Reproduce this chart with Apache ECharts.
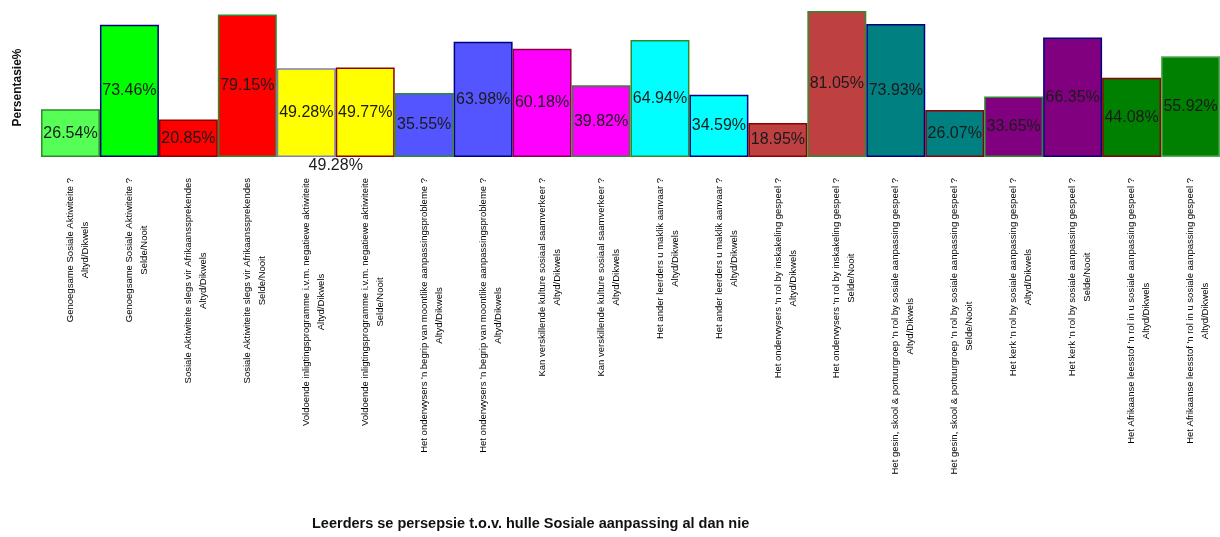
<!DOCTYPE html>
<html><head><meta charset="utf-8">
<script src="https://cdn.jsdelivr.net/npm/echarts@6/dist/echarts.min.js"></script>
<style>html,body{margin:0;padding:0;background:#fff}#c{width:1220px;height:537px}</style>
</head><body><div id="c"></div>
<script>
const questions = [
  "Genoegsame Sosiale Aktiwiteite ?",
  "Genoegsame Sosiale Aktiwiteite ?",
  "Sosiale Aktiwiteite slegs vir Afrikaanssprekendes",
  "Sosiale Aktiwiteite slegs vir Afrikaanssprekendes",
  "Voldoende inligtingsprogramme i.v.m. negatiewe aktiwiteite",
  "Voldoende inligtingsprogramme i.v.m. negatiewe aktiwiteite",
  "Het onderwysers 'n begrip van moontlike aanpassingsprobleme ?",
  "Het onderwysers 'n begrip van moontlike aanpassingsprobleme ?",
  "Kan verskillende kulture sosiaal saamverkeer ?",
  "Kan verskillende kulture sosiaal saamverkeer ?",
  "Het ander leerders u maklik aanvaar ?",
  "Het ander leerders u maklik aanvaar ?",
  "Het onderwysers 'n rol by inskakeling gespeel ?",
  "Het onderwysers 'n rol by inskakeling gespeel ?",
  "Het gesin, skool & portuurgroep 'n rol by sosiale aanpassing gespeel ?",
  "Het gesin, skool & portuurgroep 'n rol by sosiale aanpassing gespeel ?",
  "Het kerk 'n rol by sosiale aanpassing gespeel ?",
  "Het kerk 'n rol by sosiale aanpassing gespeel ?",
  "Het Afrikaanse leesstof 'n rol in u sosiale aanpassing gespeel ?",
  "Het Afrikaanse leesstof 'n rol in u sosiale aanpassing gespeel ?"
];
const answers = [
  "Altyd/Dikwels","Selde/Nooit","Altyd/Dikwels","Selde/Nooit","Altyd/Dikwels",
  "Selde/Nooit","Altyd/Dikwels","Altyd/Dikwels","Altyd/Dikwels","Altyd/Dikwels",
  "Altyd/Dikwels","Altyd/Dikwels","Altyd/Dikwels","Selde/Nooit","Altyd/Dikwels",
  "Selde/Nooit","Altyd/Dikwels","Selde/Nooit","Altyd/Dikwels","Altyd/Dikwels"
];
const values = [26.54,73.46,20.85,79.15,49.28,49.77,35.55,63.98,60.18,39.82,
                64.94,34.59,18.95,81.05,73.93,26.07,33.65,66.35,44.08,55.92];
const strayLabel = "49.28%";
const yTitle = "Persentasie%";
const xTitle = "Leerders se persepsie t.o.v. hulle Sosiale aanpassing al dan nie";

const fills = ["#55ff55","#00ff00","#ff0000","#ff0000","#ffff00","#ffff00","#5555ff","#5555ff",
  "#ff00ff","#ff00ff","#00ffff","#00ffff","#bf4040","#bf4040","#008080","#008080",
  "#800080","#800080","#008000","#008000"];
const borders = ["#2e8b2e","#000080","#8b0000","#2e8b2e","#7f7fbf","#8b0000","#2e8b2e","#000080",
  "#8b0040","#2e8b2e","#2e8b2e","#000080","#8b0000","#2e8b2e","#000080","#8b0000",
  "#2e8b2e","#000080","#8b0000","#55aa55"];

const FONT = 'Liberation Sans, Arial, sans-serif';
const cats = questions.map((q,i)=>q+"\n"+answers[i]);
const chart = echarts.init(document.getElementById('c'));
const option = {
  animation:false,
  backgroundColor:'#fff',
  textStyle:{fontFamily:FONT},
  grid:{left:41,right:0,top:4,bottom:380},
  title:{text:xTitle,left:307,top:511,textStyle:{fontSize:14.5,fontWeight:'bold',color:'#111',fontFamily:FONT}},
  xAxis:{type:'category',data:cats,
    axisLine:{show:false},axisTick:{show:false},
    axisLabel:{interval:0,rotate:90,margin:21,hideOverlap:false,
      padding:[15,0,0,0],
      formatter:function(v){const p=v.split("\n");return "{a|"+p[0]+"}\n{a|"+p[1]+"}";},
      rich:{a:{align:'center',fontSize:9.5,lineHeight:15,color:'#000',fontFamily:FONT}}}},
  yAxis:{type:'value',min:0,max:85,show:true,
    axisLine:{show:false},axisTick:{show:false},axisLabel:{show:false},splitLine:{show:false},
    name:yTitle,nameLocation:'middle',nameRotate:90,nameGap:17,
    nameTextStyle:{fontSize:12,fontWeight:'bold',color:'#111',fontFamily:FONT,padding:[0,14,0,0]}},
  series:[{type:'bar',barCategoryGap:0,
    data:values.map((v,i)=>({value:v,itemStyle:{color:fills[i],borderColor:borders[i],borderWidth:1.5}})),
    label:{show:true,position:'inside',formatter:p=>p.value.toFixed(2)+"%",
      fontSize:16,color:'#1a1a1a',fontFamily:FONT}}]
};
chart.setOption(option);
const xa = chart.convertToPixel({xAxisIndex:0},4);
const xb = chart.convertToPixel({xAxisIndex:0},5);
const y0 = chart.convertToPixel({yAxisIndex:0},0);
chart.setOption({graphic:[{type:'text',x:(xa+xb)/2,y:y0+1,style:{text:strayLabel,fontSize:16,fill:'#1a1a1a',
  align:'center',verticalAlign:'top',fontFamily:FONT}}]});
</script></body></html>
